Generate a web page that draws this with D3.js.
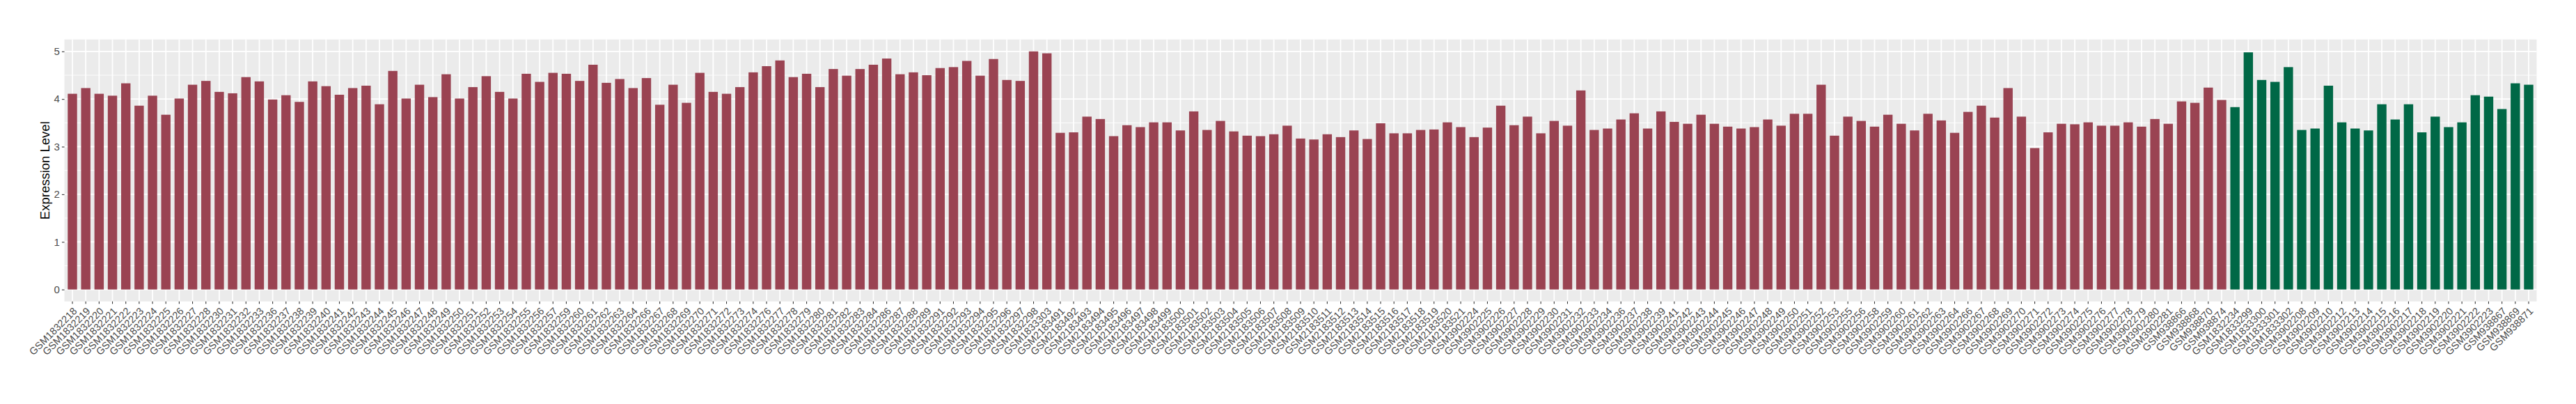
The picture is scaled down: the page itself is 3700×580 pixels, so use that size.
<!DOCTYPE html>
<html>
<head>
<meta charset="utf-8">
<script src="https://cdn.jsdelivr.net/npm/d3@7"></script>
<style>
  html, body { margin: 0; padding: 0; background: #ffffff; }
  svg { display: block; }
</style>
</head>
<body>
<div id="chart"></div>
<script>
// ---- data ----
const samplesRed = [
  "GSM1832218","GSM1832219","GSM1832220","GSM1832221","GSM1832222","GSM1832223","GSM1832224","GSM1832225","GSM1832226","GSM1832227",
  "GSM1832228","GSM1832230","GSM1832231","GSM1832232","GSM1832233","GSM1832236","GSM1832237","GSM1832238","GSM1832239","GSM1832240",
  "GSM1832241","GSM1832242","GSM1832243","GSM1832244","GSM1832245","GSM1832246","GSM1832247","GSM1832248","GSM1832249","GSM1832250",
  "GSM1832251","GSM1832252","GSM1832253","GSM1832254","GSM1832255","GSM1832256","GSM1832257","GSM1832259","GSM1832260","GSM1832261",
  "GSM1832262","GSM1832263","GSM1832264","GSM1832266","GSM1832267","GSM1832268","GSM1832269","GSM1832270","GSM1832271","GSM1832272",
  "GSM1832273","GSM1832274","GSM1832276","GSM1832277","GSM1832278","GSM1832279","GSM1832280","GSM1832281","GSM1832282","GSM1832283",
  "GSM1832284","GSM1832286","GSM1832287","GSM1832288","GSM1832289","GSM1832291","GSM1832292","GSM1832293","GSM1832294","GSM1832295",
  "GSM1832296","GSM1832297","GSM1832298","GSM1833303",
  "GSM2183491","GSM2183492","GSM2183493","GSM2183494","GSM2183495","GSM2183496","GSM2183497","GSM2183498","GSM2183499","GSM2183500",
  "GSM2183501","GSM2183502","GSM2183503","GSM2183504","GSM2183505","GSM2183506","GSM2183507","GSM2183508","GSM2183509","GSM2183510",
  "GSM2183511","GSM2183512","GSM2183513","GSM2183514","GSM2183515","GSM2183516","GSM2183517","GSM2183518","GSM2183519","GSM2183520",
  "GSM2183521",
  "GSM3902224","GSM3902225","GSM3902226","GSM3902227","GSM3902228","GSM3902229","GSM3902230","GSM3902231","GSM3902232","GSM3902233",
  "GSM3902234","GSM3902236","GSM3902237","GSM3902238","GSM3902239","GSM3902241","GSM3902242","GSM3902243","GSM3902244","GSM3902245",
  "GSM3902246","GSM3902247","GSM3902248","GSM3902249","GSM3902250","GSM3902251","GSM3902252","GSM3902253","GSM3902255","GSM3902256",
  "GSM3902258","GSM3902259","GSM3902260","GSM3902261","GSM3902262","GSM3902263","GSM3902264","GSM3902266","GSM3902267","GSM3902268",
  "GSM3902269","GSM3902270","GSM3902271","GSM3902272","GSM3902273","GSM3902274","GSM3902275","GSM3902276","GSM3902277","GSM3902278",
  "GSM3902279","GSM3902280","GSM3902281",
  "GSM938866","GSM938868","GSM938870","GSM938874"
];
const valuesRed = [
  4.11,4.23,4.11,4.07,4.33,3.86,4.07,3.67,4.01,4.30,
  4.38,4.15,4.12,4.46,4.37,3.99,4.08,3.94,4.37,4.27,
  4.09,4.23,4.28,3.89,4.59,4.01,4.30,4.04,4.52,4.01,
  4.25,4.48,4.15,4.01,4.53,4.36,4.55,4.53,4.38,4.72,
  4.34,4.42,4.23,4.44,3.88,4.30,3.92,4.55,4.15,4.11,
  4.25,4.56,4.69,4.81,4.46,4.53,4.25,4.63,4.49,4.63,
  4.72,4.85,4.52,4.56,4.50,4.65,4.67,4.80,4.49,4.84,
  4.40,4.38,5.00,4.96,
  3.29,3.30,3.63,3.58,3.22,3.45,3.41,3.51,3.51,3.34,
  3.74,3.35,3.54,3.32,3.23,3.22,3.26,3.44,3.17,3.15,
  3.26,3.20,3.34,3.16,3.49,3.28,3.28,3.35,3.36,3.51,
  3.41,
  3.20,3.40,3.86,3.45,3.63,3.28,3.54,3.44,4.18,3.35,
  3.38,3.57,3.70,3.38,3.74,3.52,3.48,3.67,3.48,3.42,
  3.38,3.41,3.57,3.44,3.69,3.69,4.30,3.23,3.63,3.54,
  3.42,3.67,3.48,3.34,3.69,3.55,3.29,3.73,3.86,3.61,
  4.23,3.63,2.97,3.30,3.48,3.47,3.51,3.44,3.44,3.51,
  3.42,3.58,3.48,
  3.95,3.92,4.24,3.98
];
const samplesGreen = [
  "GSM1832234","GSM1833299","GSM1833300","GSM1833301","GSM1833302",
  "GSM3902208","GSM3902209","GSM3902210","GSM3902212","GSM3902213","GSM3902214","GSM3902215","GSM3902216","GSM3902217",
  "GSM3902218","GSM3902219","GSM3902220","GSM3902221","GSM3902222","GSM3902223",
  "GSM938867","GSM938869","GSM938871"
];
const valuesGreen = [
  3.83,4.98,4.40,4.36,4.67,
  3.35,3.38,4.28,3.51,3.38,3.34,3.89,3.57,3.89,
  3.30,3.63,3.41,3.51,4.08,4.05,
  3.79,4.33,4.30
];
const yTicks = [0, 1, 2, 3, 4, 5];
const yMinor = [0.5, 1.5, 2.5, 3.5, 4.5];
const yTitle = "Expression Level";

// ---- build rows ----
const rows = samplesRed.map((s, i) => ({ sample: s, value: valuesRed[i], group: "red" }))
  .concat(samplesGreen.map((s, i) => ({ sample: s, value: valuesGreen[i], group: "green" })));
const fillOf = { red: "#9A4352", green: "#006846" };

// ---- layout ----
const W = 3700, H = 580;
const panel = { left: 92.5, right: 3643.5, top: 56.7, bottom: 432.7 };

const svg = d3.select("#chart").append("svg")
  .attr("width", W).attr("height", H)
  .style("font-family", "'Liberation Sans', Arial, Helvetica, sans-serif");
svg.append("rect").attr("width", W).attr("height", H).attr("fill", "#ffffff");

const x = d3.scaleBand()
  .domain(rows.map(d => d.sample))
  .range([panel.left, panel.right])
  .paddingInner(0.3)
  .paddingOuter(0.25);

const maxV = d3.max(rows, d => d.value);
const yExp = maxV * 0.05;
const y = d3.scaleLinear()
  .domain([0 - yExp, maxV + yExp])
  .range([panel.bottom, panel.top]);

// panel background
svg.append("rect")
  .attr("x", panel.left).attr("y", panel.top)
  .attr("width", panel.right - panel.left).attr("height", panel.bottom - panel.top)
  .attr("fill", "#EBEBEB");

const grid = svg.append("g");
// minor horizontal grid
grid.selectAll("line.minor").data(yMinor).join("line")
  .attr("class", "minor")
  .attr("x1", panel.left).attr("x2", panel.right)
  .attr("y1", d => y(d)).attr("y2", d => y(d))
  .attr("stroke", "#ffffff").attr("stroke-width", 0.9);
// major horizontal grid
grid.selectAll("line.majy").data(yTicks).join("line")
  .attr("class", "majy")
  .attr("x1", panel.left).attr("x2", panel.right)
  .attr("y1", d => y(d)).attr("y2", d => y(d))
  .attr("stroke", "#ffffff").attr("stroke-width", 1.8);
// vertical grid at categories
grid.selectAll("line.majx").data(rows).join("line")
  .attr("class", "majx")
  .attr("x1", d => x(d.sample) + x.bandwidth() / 2).attr("x2", d => x(d.sample) + x.bandwidth() / 2)
  .attr("y1", panel.top).attr("y2", panel.bottom)
  .attr("stroke", "#ffffff").attr("stroke-width", 1.8);

// bars
svg.append("g").selectAll("rect").data(rows).join("rect")
  .attr("x", d => x(d.sample))
  .attr("width", x.bandwidth())
  .attr("y", d => y(Math.max(0, d.value)))
  .attr("height", d => Math.abs(y(d.value) - y(0)))
  .attr("fill", d => fillOf[d.group]);

// y axis
const yAxis = d3.axisLeft(y).tickValues(yTicks).tickSize(3.6).tickPadding(3).tickFormat(d3.format("d"));
const gy = svg.append("g").attr("transform", `translate(${panel.left},0)`).call(yAxis);
gy.select(".domain").remove();
gy.selectAll(".tick line").attr("stroke", "#333333").attr("stroke-width", 1.1);
gy.selectAll(".tick text").attr("fill", "#4D4D4D").style("font-size", "15px")
  .style("font-family", "'Liberation Sans', Arial, sans-serif");

// x axis
const xAxis = d3.axisBottom(x).tickSize(3.6).tickPadding(0);
const gx = svg.append("g").attr("transform", `translate(0,${panel.bottom})`).call(xAxis);
gx.select(".domain").remove();
gx.selectAll(".tick line").attr("stroke", "#333333").attr("stroke-width", 1.1);
gx.selectAll(".tick text")
  .attr("fill", "#4D4D4D")
  .style("font-size", "14.5px")
  .style("font-family", "'Liberation Sans', Arial, sans-serif")
  .attr("text-anchor", "end")
  .attr("y", 0).attr("dy", "0.72em")
  .attr("transform", "translate(0,7.5) rotate(-45)");

// y title
svg.append("text")
  .attr("transform", `translate(65,${(panel.top + panel.bottom) / 2}) rotate(-90)`)
  .attr("text-anchor", "middle")
  .attr("dy", "0.35em")
  .attr("fill", "#000000")
  .style("font-size", "18.5px")
  .text(yTitle);
</script>
</body>
</html>
